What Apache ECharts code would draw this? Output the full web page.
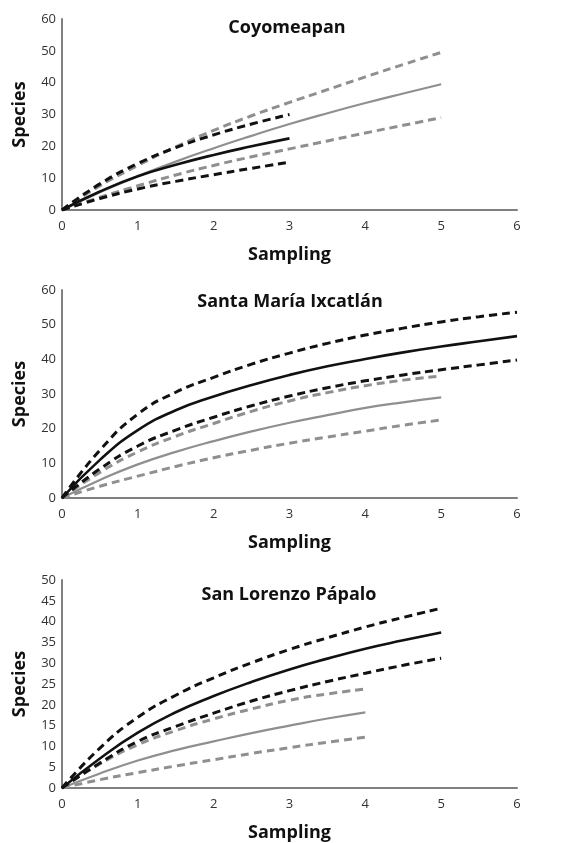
<!DOCTYPE html>
<html>
<head>
<meta charset="utf-8">
<script src="https://cdn.jsdelivr.net/npm/echarts@6/dist/echarts.min.js"></script>
<style>html,body{margin:0;padding:0;background:#fff}#c{width:567px;height:843px}</style>
</head>
<body>
<div id="c"></div>
<script>
// ---- data ----
const panelTitles = ['Coyomeapan', 'Santa María Ixcatlán', 'San Lorenzo Pápalo'];
const xSteps = [0, 0.5, 1, 1.5, 2, 2.5, 3, 3.5, 4, 4.5, 5, 5.5, 6];
const yMaxes = [60, 60, 50];
const yIntervals = [10, 10, 5];

// Coyomeapan
const coyGraySolid  = [0, 5.6, 10.6, 15.2, 19.4, 23.3, 27, 30.4, 33.6, 36.6, 39.5];
const coyGrayUp     = [0, 7.6, 14, 19.8, 25, 29.6, 33.8, 37.8, 41.8, 45.7, 49.5];
const coyGrayLow    = [0, 4, 7.6, 11, 14, 16.7, 19.2, 21.7, 24.2, 26.6, 29];
const coyBlackSolid = [0, 5.8, 10.6, 14.2, 17.3, 20, 22.5];
const coyBlackUp    = [0, 8.2, 14.6, 19.6, 23.6, 27, 30];
const coyBlackLow   = [0, 3.6, 6.6, 9, 11.1, 13.1, 15];

// Santa María Ixcatlán
const smBlackUp    = [0, 13.8, 24.2, 30.5, 34.8, 38.6, 41.8, 44.6, 47, 49, 50.8, 52.3, 53.6];
const smBlackSolid = [0, 11, 19.6, 25.3, 29.3, 32.6, 35.5, 38, 40.1, 42, 43.7, 45.2, 46.7];
const smBlackLow   = [0, 8.4, 15, 19.6, 23.3, 26.6, 29.4, 31.8, 33.8, 35.5, 37, 38.4, 39.8];
const smGrayUp     = [0, 7.4, 13.3, 17.8, 21.5, 25, 28, 30.4, 32.4, 34, 35.2];
const smGraySolid  = [0, 5.2, 9.7, 13.3, 16.4, 19.2, 21.7, 23.9, 26, 27.6, 29];
const smGrayLow    = [0, 3.4, 6.3, 9.1, 11.6, 13.8, 15.8, 17.6, 19.3, 21, 22.5];

// San Lorenzo Pápalo
const slBlackUp    = [0, 9.6, 17, 22.3, 26.5, 30.1, 33.3, 36.1, 38.7, 41, 43.2];
const slBlackSolid = [0, 7.1, 13.3, 18.2, 22.1, 25.5, 28.5, 31.1, 33.5, 35.5, 37.4];
const slBlackLow   = [0, 6, 11.2, 14.8, 18, 20.9, 23.4, 25.6, 27.6, 29.5, 31.2];
const slGrayUp     = [0, 5.8, 10.4, 13.8, 16.6, 19, 21.1, 22.6, 23.8];
const slGraySolid  = [0, 3.5, 6.6, 9.1, 11.2, 13.2, 15, 16.7, 18.2];
const slGrayLow    = [0, 2, 3.7, 5.3, 6.8, 8.3, 9.7, 11, 12.2];

const panels = [
  [['black','dash',coyBlackUp],['black','solid',coyBlackSolid],['black','dash',coyBlackLow],
   ['gray','dash',coyGrayUp],['gray','solid',coyGraySolid],['gray','dash',coyGrayLow]],
  [['black','dash',smBlackUp],['black','solid',smBlackSolid],['black','dash',smBlackLow],
   ['gray','dash',smGrayUp],['gray','solid',smGraySolid],['gray','dash',smGrayLow]],
  [['black','dash',slBlackUp],['black','solid',slBlackSolid],['black','dash',slBlackLow],
   ['gray','dash',slGrayUp],['gray','solid',slGraySolid],['gray','dash',slGrayLow]]
];

// ---- layout ----
const FONT = '"Open Sans", Lato, sans-serif';
const gridTops = [19, 290, 580];
const gridHeights = [191, 208, 208];
const titleY = [28, 302, 595];
const titleX = [287, 290, 289];
const COLORS = { black: '#111111', gray: '#8f8f8f' };

const grids = [], xAxes = [], yAxes = [], series = [], graphics = [];
for (let p = 0; p < 3; p++) {
  grids.push({ left: 62, right: 50, top: gridTops[p], height: gridHeights[p] });
  xAxes.push({
    type: 'value', gridIndex: p, min: 0, max: 6, interval: 1,
    name: 'Sampling', nameLocation: 'middle', nameGap: 36,
    nameTextStyle: { fontFamily: FONT, fontWeight: 'bold', fontSize: 18, color: '#111' },
    axisLine: { show: true, onZero: false, lineStyle: { color: '#808080', width: 2 } },
    axisTick: { show: false }, splitLine: { show: false },
    axisLabel: { fontFamily: FONT, fontSize: 13, color: '#333', margin: 10 }
  });
  yAxes.push({
    type: 'value', gridIndex: p, min: 0, max: yMaxes[p], interval: yIntervals[p],
    name: 'Species', nameLocation: 'middle', nameGap: 33,
    nameTextStyle: { fontFamily: FONT, fontWeight: 'bold', fontSize: 18, color: '#111' },
    axisLine: { show: true, lineStyle: { color: '#808080', width: 2 } },
    axisTick: { show: false }, splitLine: { show: false },
    axisLabel: { fontFamily: FONT, fontSize: 13, color: '#333', margin: 6 }
  });
  panels[p].forEach(([col, style, vals]) => {
    series.push({
      type: 'line', xAxisIndex: p, yAxisIndex: p, smooth: 0.5, symbol: 'none',
      data: vals.map((v, i) => [xSteps[i], v]),
      lineStyle: {
        color: COLORS[col],
        width: style === 'dash' ? 3 : (col === 'black' ? 2.6 : 2.2),
        type: style === 'dash' ? [8, 5] : 'solid'
      },
      z: col === 'black' ? 3 : 2
    });
  });
  graphics.push({
    type: 'text', x: titleX[p], y: titleY[p],
    style: { text: panelTitles[p], font: 'bold 18px ' + FONT, fill: '#111',
             align: 'center', verticalAlign: 'middle', textAlign: 'center', textVerticalAlign: 'middle' }
  });
}

const chart = echarts.init(document.getElementById('c'), null, { renderer: 'canvas' });
chart.setOption({
  animation: false,
  backgroundColor: '#fff',
  grid: grids, xAxis: xAxes, yAxis: yAxes, series: series, graphic: graphics
});
</script>
</body>
</html>
